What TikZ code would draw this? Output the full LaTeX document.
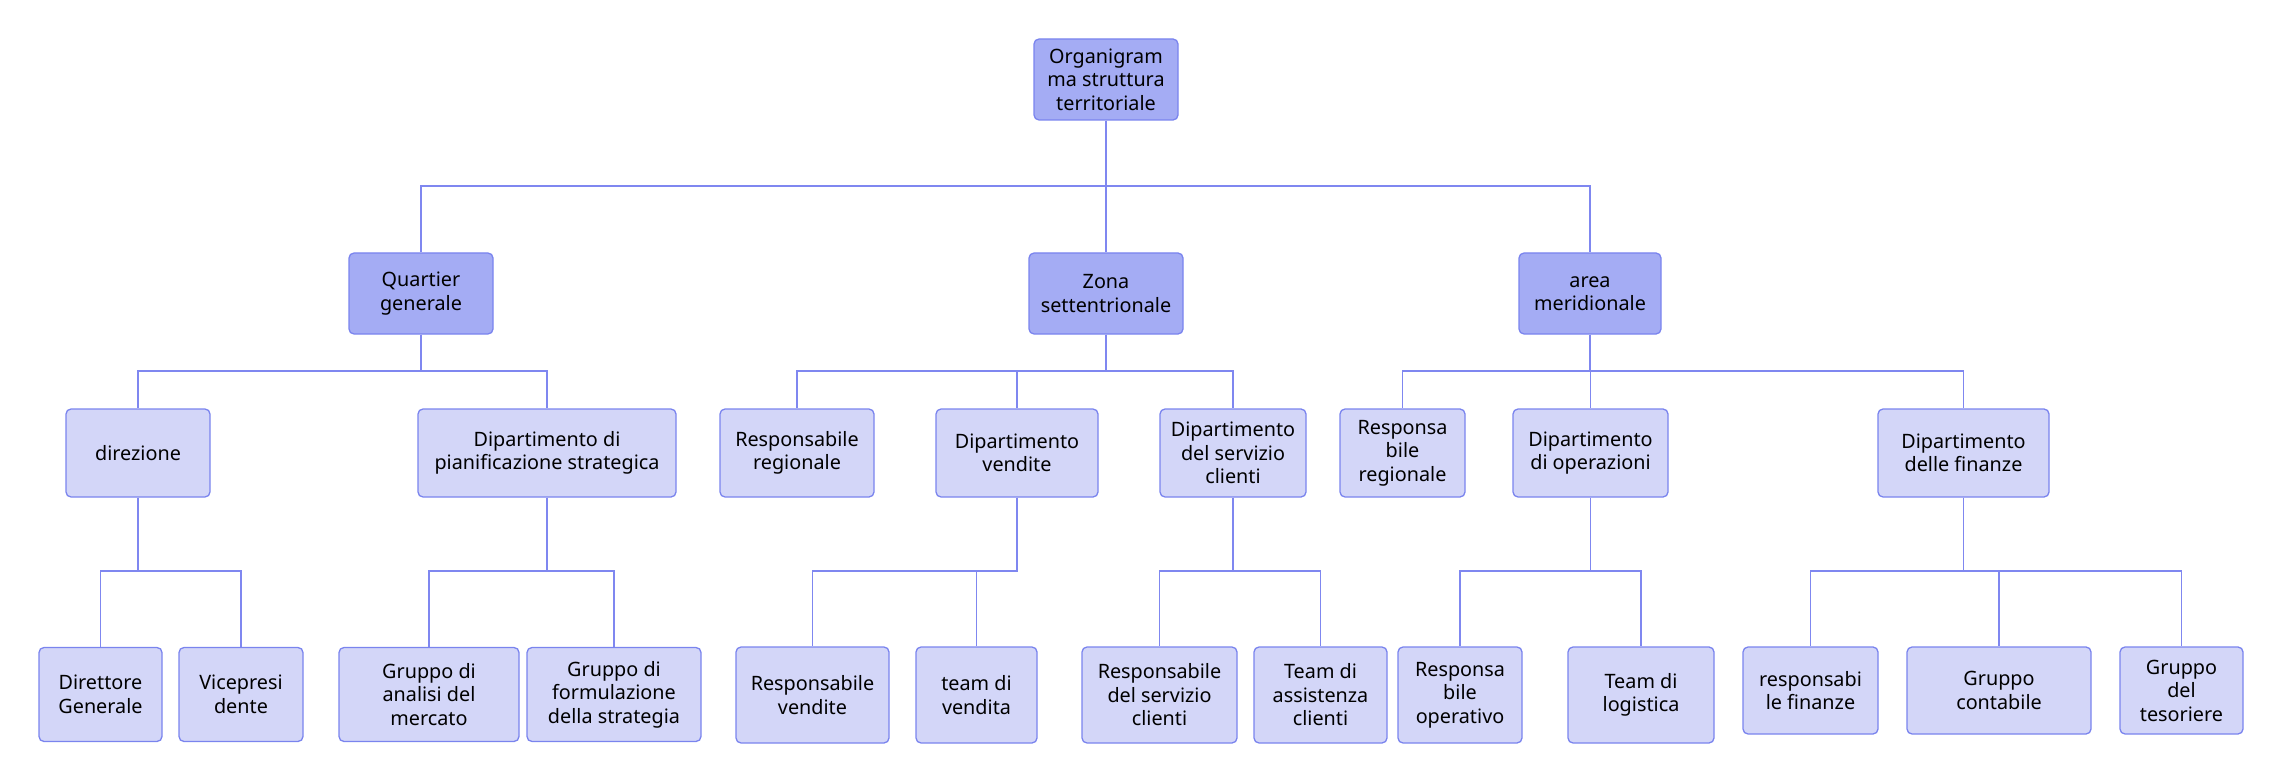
\documentclass[tikz,border=0pt]{standalone}
\usepackage{fontspec}
\setmainfont{Noto Sans}
\definecolor{darkfill}{HTML}{A4ACF4}
\definecolor{lightfill}{HTML}{D3D6F8}
\definecolor{boxline}{HTML}{7A84EE}
\definecolor{connline}{HTML}{7F87F0}
\begin{document}
\begin{tikzpicture}[x=1pt,y=-1pt,
  box/.style={draw=boxline,line width=1.3pt,rounded corners=5pt,inner sep=0pt,align=center,
    font=\fontsize{19.8}{23.5}\selectfont,text=black},
  topbox/.style={box,fill=darkfill},
  subbox/.style={box,fill=lightfill},
  conn/.style={draw=connline,line width=1.4pt}]
\useasboundingbox (0,0) rectangle (2279,778);
\newcommand{\bx}[7]{\node[#1,minimum width=#4pt,minimum height=#5pt] (#2) at (#3,#6) {#7};}
% level 0
\bx{topbox}{root}{1106}{144}{81}{79.5}{Organigram\\ma struttura\\territoriale}
% level 1
\bx{topbox}{qg}{421}{144}{81}{293.5}{Quartier\\generale}
\bx{topbox}{zs}{1106}{154}{81}{293.5}{Zona\\settentrionale}
\bx{topbox}{am}{1590}{142}{81}{293.5}{area\\meridionale}
% level 2
\bx{subbox}{dir}{138}{144}{88}{453}{direzione}
\bx{subbox}{dps}{547}{258}{88}{453}{Dipartimento di\\pianificazione strategica}
\bx{subbox}{rr}{797}{154}{88}{453}{Responsabile\\regionale}
\bx{subbox}{dv}{1017}{162}{88}{453}{Dipartimento\\vendite}
\bx{subbox}{dsc}{1233}{146}{88}{453}{Dipartimento\\del servizio\\clienti}
\bx{subbox}{rbr}{1402.5}{125}{88}{453}{Responsa\\bile\\regionale}
\bx{subbox}{dop}{1590.5}{155}{88}{453}{Dipartimento\\di operazioni}
\bx{subbox}{dfin}{1963.5}{171}{88}{453}{Dipartimento\\delle finanze}
% level 3
\bx{subbox}{dg}{100.5}{123}{94}{694.5}{Direttore\\Generale}
\bx{subbox}{vp}{241}{124}{94}{694.5}{Vicepresi\\dente}
\bx{subbox}{gam}{429}{180}{94}{694.5}{Gruppo di\\analisi del\\mercato}
\bx{subbox}{gfs}{614}{174}{94}{694.5}{Gruppo di\\formulazione\\della strategia}
\bx{subbox}{rv}{812.5}{153}{96}{695}{Responsabile\\vendite}
\bx{subbox}{tv}{976.5}{121}{96}{695}{team di\\vendita}
\bx{subbox}{rsc}{1159.5}{155}{96}{695}{Responsabile\\del servizio\\clienti}
\bx{subbox}{tac}{1320.5}{133}{96}{695}{Team di\\assistenza\\clienti}
\bx{subbox}{rbo}{1460}{124}{96}{695}{Responsa\\bile\\operativo}
\bx{subbox}{tl}{1641}{146}{96}{695}{Team di\\logistica}
\bx{subbox}{rf}{1810.5}{135}{87}{690.5}{responsabi\\le finanze}
\bx{subbox}{gc}{1999}{184}{87}{690.5}{Gruppo\\contabile}
\bx{subbox}{gt}{2181.5}{123}{87}{690.5}{Gruppo\\del\\tesoriere}
% connectors
\newcommand{\conn}[3]{\draw[conn] (#1.south) -- (#1.south |- 0,#3) -| (#2.north);}
\conn{root}{qg}{186}
\conn{root}{zs}{186}
\conn{root}{am}{186}
\conn{qg}{dir}{371}
\conn{qg}{dps}{371}
\conn{zs}{rr}{371}
\conn{zs}{dv}{371}
\conn{zs}{dsc}{371}
\conn{am}{rbr}{371}
\conn{am}{dop}{371}
\conn{am}{dfin}{371}
\conn{dir}{dg}{571}
\conn{dir}{vp}{571}
\conn{dps}{gam}{571}
\conn{dps}{gfs}{571}
\conn{dv}{rv}{571}
\conn{dv}{tv}{571}
\conn{dsc}{rsc}{571}
\conn{dsc}{tac}{571}
\conn{dop}{rbo}{571}
\conn{dop}{tl}{571}
\conn{dfin}{rf}{571}
\conn{dfin}{gc}{571}
\conn{dfin}{gt}{571}
\end{tikzpicture}
\end{document}
